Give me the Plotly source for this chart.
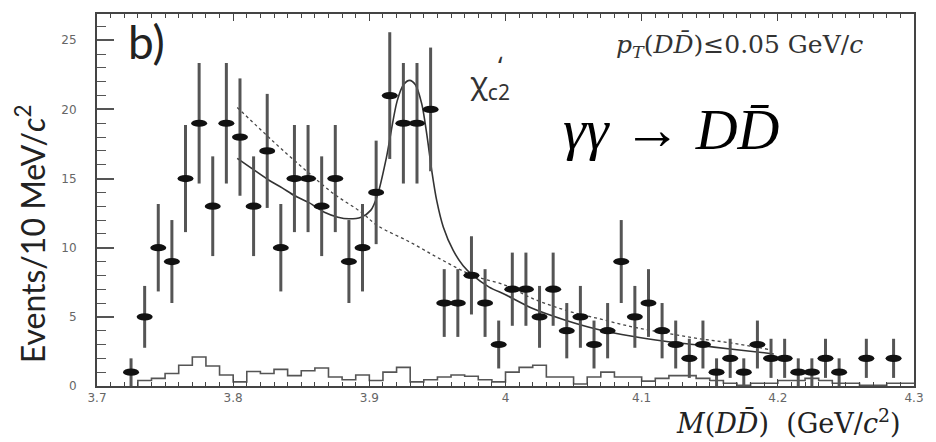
import plotly.graph_objects as go
import numpy as np

# ---------------- data ----------------
bin_centers = [3.725, 3.735, 3.745, 3.755, 3.765, 3.775, 3.785, 3.795, 3.805, 3.815,
               3.825, 3.835, 3.845, 3.855, 3.865, 3.875, 3.885, 3.895, 3.905, 3.915,
               3.925, 3.935, 3.945, 3.955, 3.965, 3.975, 3.985, 3.995, 4.005, 4.015,
               4.025, 4.035, 4.045, 4.055, 4.065, 4.075, 4.085, 4.095, 4.105, 4.115,
               4.125, 4.135, 4.145, 4.155, 4.165, 4.175, 4.185, 4.195, 4.205, 4.215,
               4.225, 4.235, 4.245, 4.255, 4.265, 4.275, 4.285, 4.295]
counts = [1, 5, 10, 9, 15, 19, 13, 19, 18, 13,
          17, 10, 15, 15, 13, 15, 9, 10, 14, 21,
          19, 19, 20, 6, 6, 8, 6, 3, 7, 7,
          5, 7, 4, 5, 3, 4, 9, 5, 6, 4,
          3, 2, 3, 1, 2, 1, 3, 2, 2, 1,
          1, 2, 1, 0, 2, 0, 2, 0]

hist_edges = [3.73, 3.74, 3.75, 3.76, 3.77, 3.78, 3.79, 3.80, 3.81, 3.82, 3.83, 3.84,
              3.85, 3.86, 3.87, 3.88, 3.89, 3.90, 3.91, 3.92, 3.93, 3.94, 3.95, 3.96,
              3.97, 3.98, 3.99, 4.00, 4.01, 4.02, 4.03, 4.04, 4.05, 4.06, 4.07, 4.08,
              4.09, 4.10, 4.11, 4.12, 4.13, 4.14, 4.15, 4.16, 4.17, 4.18, 4.19, 4.20,
              4.21, 4.22, 4.23, 4.24, 4.25, 4.26, 4.27, 4.28, 4.29, 4.30]
hist_values = [0.4, 0.55, 0.9, 1.5, 2.1, 1.45, 0.8,
               0.3, 1.05, 0.9, 1.2, 0.75, 1.1, 1.3, 0.65, 0.45, 0.8,
               0.4, 1.0, 1.35, 0.3, 0.45, 0.65, 0.8, 0.7, 0.45, 0.3,
               1.0, 1.35, 1.5, 0.65, 0.65, 0.15, 0.65, 1.0, 0.65, 0.65,
               0.35, 0.55, 0.75, 0.75, 0.55, 0.4, 0.2, 0.05, 0.2, 0.2,
               0.4, 0.4, 0.55, 0.4, 0.2, 0.2, 0.05, 0.05, 0.2, 0.2]

fit_mass = [3.803, 3.816, 3.826, 3.836, 3.845, 3.856, 3.867, 3.877, 3.885, 3.894,
            3.901, 3.906, 3.9125, 3.9204, 3.9252, 3.9296, 3.9337, 3.9385, 3.9422, 3.9458,
            3.9495, 3.9543, 3.9616, 3.9689, 3.976, 3.988, 4.000, 4.020, 4.044, 4.068,
            4.093, 4.117, 4.141, 4.165, 4.190, 4.197]
fit_total = [16.46, 15.57, 14.9, 14.33, 13.77, 13.24, 12.57, 12.21, 12.09, 12.21,
             12.7, 13.8, 16.5, 20.6, 21.8, 22.1, 21.8, 20.4, 18.2, 15.6,
             13.4, 11.5, 9.8, 8.7, 8.0, 7.15, 6.6, 5.6, 4.76, 4.09,
             3.6, 3.24, 2.96, 2.67, 2.4, 2.32]

bkg_mass = [3.803, 3.821, 3.8355, 3.855, 3.874, 3.894, 3.906, 3.93, 3.954, 3.976,
            4.0, 4.02, 4.044, 4.068, 4.093, 4.117, 4.141, 4.165, 4.193]
bkg_only = [20.14, 18.46, 17.14, 15.45, 13.89, 12.57, 11.6, 10.4, 9.08, 8.0,
            7.28, 6.32, 5.48, 4.88, 4.28, 3.84, 3.44, 3.12, 2.65]

x_ticks = [3.7, 3.8, 3.9, 4.0, 4.1, 4.2, 4.3]
x_tick_labels = ["3.7", "3.8", "3.9", "4", "4.1", "4.2", "4.3"]
y_ticks = [0, 5, 10, 15, 20, 25]
y_tick_labels = ["0", "5", "10", "15", "20", "25"]

# ---------------- figure ----------------
fig = go.Figure()

# background histogram (step line)
hx = [hist_edges[0]] + hist_edges
hy = [0] + hist_values + [hist_values[-1]]
fig.add_trace(go.Scatter(x=hx, y=hy, mode="lines",
                         line=dict(shape="hv", color="#555555", width=1.6),
                         hoverinfo="skip"))

# fit curves
fig.add_trace(go.Scatter(x=bkg_mass, y=bkg_only, mode="lines",
                         line=dict(color="#444444", width=1.3, dash="3px,3px", shape="spline"),
                         hoverinfo="skip"))
fig.add_trace(go.Scatter(x=fit_mass, y=fit_total, mode="lines",
                         line=dict(color="#333333", width=1.6, shape="spline", smoothing=0.8),
                         hoverinfo="skip"))

# data points with sqrt(N) error bars
cx = [m for m, c in zip(bin_centers, counts) if c > 0]
cy = [c for c in counts if c > 0]
err = [float(np.sqrt(c)) for c in cy]
fig.add_trace(go.Scatter(x=cx, y=cy, mode="markers",
                         marker=dict(symbol="circle", size=2, color="#111111", opacity=0),
                         error_y=dict(type="data", array=err, visible=True,
                                      thickness=3, width=0, color="#555555"),
                         hoverinfo="skip"))

# elliptical point markers, anchored at the data values, sized in pixels
shapes = []
for m, c in zip(cx, cy):
    shapes.append(dict(type="circle", xref="x", yref="y",
                       xsizemode="pixel", ysizemode="pixel",
                       xanchor=m, yanchor=c, x0=-8, x1=8, y0=-3.6, y1=3.6,
                       fillcolor="#111111", line=dict(width=0), layer="above"))

tick_font = dict(family="DejaVu Sans", size=12, color="#666666")

fig.update_xaxes(range=[3.7, 4.3], showline=True, linewidth=2, linecolor="#444444",
                 mirror="ticks", ticks="inside", ticklen=7, tickwidth=1.2, tickcolor="#444444",
                 tickvals=x_ticks, ticktext=x_tick_labels, tickfont=tick_font,
                 minor=dict(ticks="inside", ticklen=4, dtick=0.01, tickcolor="#444444", tickwidth=1),
                 showgrid=False, zeroline=False)
fig.update_yaxes(range=[0, 26.9], showline=True, linewidth=2, linecolor="#444444",
                 mirror=True, ticks="inside", ticklen=17, tickwidth=1.5, tickcolor="#555555",
                 tickvals=y_ticks, ticktext=y_tick_labels, tickfont=tick_font,
                 ticklabelstandoff=16,
                 minor=dict(ticks="inside", ticklen=9, dtick=1, tickcolor="#555555", tickwidth=1.2),
                 showgrid=False, zeroline=False)

C = dict(xref="paper", yref="paper", showarrow=False, xanchor="center", yanchor="middle")
ann = []
ann.append(dict(text="b)", x=0.0605, y=0.925,
                font=dict(family="Lato", size=46, color="#222222"), **C))
ann.append(dict(text="χ<sub>c2</sub>", x=0.4806, y=0.812,
                font=dict(family="Noto Sans", size=30, color="#333333"), **C))
ann.append(dict(text="ʻ", x=0.4935, y=0.862,
                font=dict(family="Noto Sans", size=26, color="#333333"), **C))
ann.append(dict(text="<i>p</i><sub><i>T</i></sub>(<i>D</i><i>D̄</i>)≤0.05 GeV/<i>c</i>",
                x=0.787, y=0.915,
                font=dict(family="DejaVu Serif", size=25, color="#333333"), **C))
ann.append(dict(text="<i>γγ</i> → <i>DD̄</i>",
                x=0.703, y=0.69,
                font=dict(family="Liberation Serif", size=58, color="#000000"), **C))
ann.append(dict(text="Events/10 MeV/<i>c</i><sup>2</sup>", textangle=-90,
                x=-0.081, y=0.41,
                font=dict(family="Lato", size=32, color="#222222"), **C))
ann.append(dict(text="<i>M</i>(<i>D</i><i>D̄</i>)  (GeV/<i>c</i><sup>2</sup>)",
                x=0.847, y=-0.0965,
                font=dict(family="DejaVu Serif", size=27, color="#222222"), **C))

fig.update_layout(width=936, height=442, margin=dict(l=97, r=13, t=13, b=56),
                  plot_bgcolor="white", paper_bgcolor="white", showlegend=False,
                  annotations=ann, shapes=shapes)

fig.write_html("out.html")
